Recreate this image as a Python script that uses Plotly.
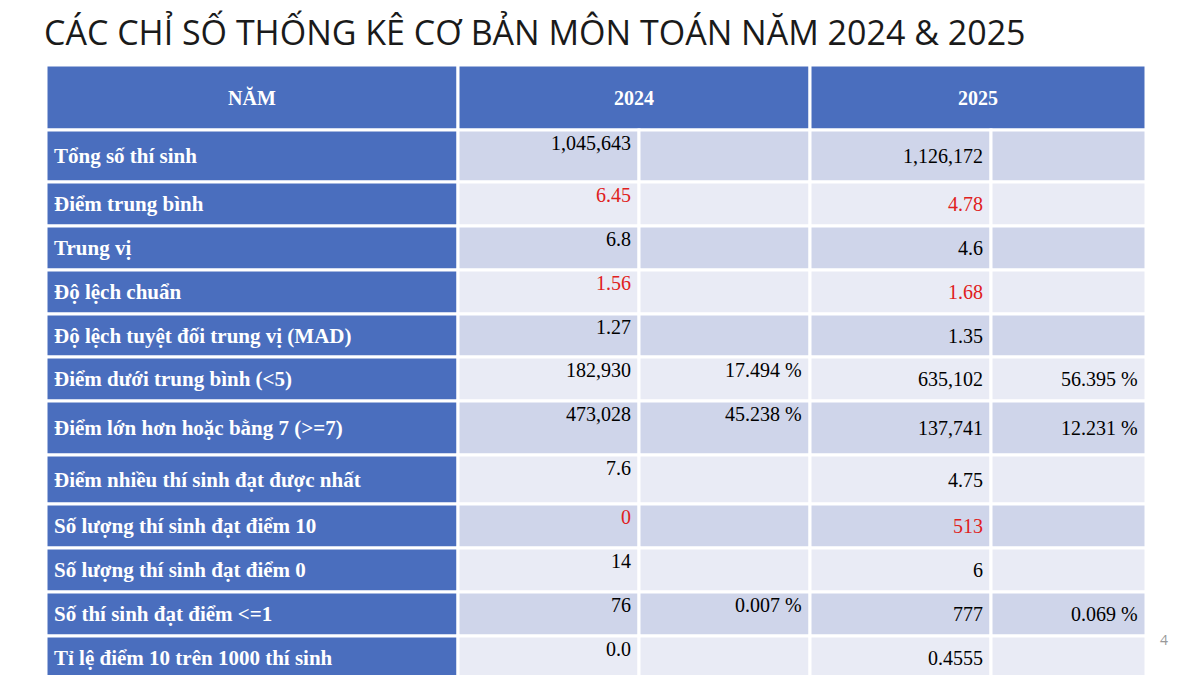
import plotly.graph_objects as go

title = "CÁC CHỈ SỐ THỐNG KÊ CƠ BẢN MÔN TOÁN NĂM 2024 & 2025"
header = ["NĂM", "2024", "2025"]
labels = [
    "Tổng số thí sinh", "Điểm trung bình", "Trung vị", "Độ lệch chuẩn",
    "Độ lệch tuyệt đối trung vị (MAD)", "Điểm dưới trung bình (<5)",
    "Điểm lớn hơn hoặc bằng 7 (>=7)", "Điểm nhiều thí sinh đạt được nhất",
    "Số lượng thí sinh đạt điểm 10", "Số lượng thí sinh đạt điểm 0",
    "Số thí sinh đạt điểm <=1", "Tỉ lệ điểm 10 trên 1000 thí sinh",
]
val_2024 = ["1,045,643", "6.45", "6.8", "1.56", "1.27", "182,930", "473,028",
            "7.6", "0", "14", "76", "0.0"]
pct_2024 = ["", "", "", "", "", "17.494 %", "45.238 %", "", "", "", "0.007 %", ""]
val_2025 = ["1,126,172", "4.78", "4.6", "1.68", "1.35", "635,102", "137,741",
            "4.75", "513", "6", "777", "0.4555"]
pct_2025 = ["", "", "", "", "", "56.395 %", "12.231 %", "", "", "", "0.069 %", ""]
highlight = [False, True, False, True, False, False, False, False, True, False, False, False]

# layout (pixels)
col_x = [47, 459, 640, 811, 992, 1147]
row_y = [66, 131, 183, 227, 271, 315, 358, 402, 456, 505, 549, 593, 637, 690]
BLUE = "#4A6EBE"
ODD = "#CFD5EA"
EVEN = "#E9EBF5"
SERIF = "Liberation Serif"
OFF = 9  # page offset compensation

fig = go.Figure()
shapes = []
ann = []


def rect(x0, x1, y0, y1, color):
    shapes.append(dict(type="rect", xref="x", yref="y", x0=x0, x1=x1, y0=y0, y1=y1,
                       fillcolor=color, line=dict(color="white", width=3), layer="below"))


def text(x, y, s, color="black", anchor="right", bold=False, size=20):
    ann.append(dict(x=x, y=y, xref="x", yref="y", text=f"<b>{s}</b>" if bold else s,
                    showarrow=False, xanchor=anchor, yanchor="middle",
                    font=dict(family=SERIF, size=size, color=color)))


# header
h0, h1 = row_y[0], row_y[1]
rect(col_x[0], col_x[1], h0, h1, BLUE)
rect(col_x[1], col_x[3], h0, h1, BLUE)
rect(col_x[3], col_x[5], h0, h1, BLUE)
text((col_x[0] + col_x[1]) / 2, (h0 + h1) / 2, header[0], "white", "center", True)
text((col_x[1] + col_x[3]) / 2, (h0 + h1) / 2, header[1], "white", "center", True)
text((col_x[3] + col_x[5]) / 2, (h0 + h1) / 2, header[2], "white", "center", True)

for i, lab in enumerate(labels):
    y0, y1 = row_y[i + 1], row_y[i + 2]
    mid = min((y0 + y1) / 2, 659)
    fill = ODD if i % 2 == 0 else EVEN
    rect(col_x[0], col_x[1], y0, y1, BLUE)
    for c in range(1, 5):
        rect(col_x[c], col_x[c + 1], y0, y1, fill)
    text(col_x[0] + 6, mid, lab, "white", "left", True, 21)
    red = "#E02020" if highlight[i] else "black"
    text(col_x[2] - 6, y0 + 13, val_2024[i], red)
    text(col_x[3] - 6, y0 + 13, pct_2024[i])
    text(col_x[4] - 6, mid, val_2025[i], red)
    text(col_x[5] - 6, mid, pct_2025[i])

ann.append(dict(x=43, y=33, xref="x", yref="y", text=title, showarrow=False,
                xanchor="left", yanchor="middle",
                font=dict(family="Open Sans", size=34, color="#1a1a1a")))
ann.append(dict(x=1165, y=640, xref="x", yref="y", text="4", showarrow=False,
                font=dict(family="Open Sans", size=14, color="#999999")))

fig.update_layout(
    width=1200, height=675, margin=dict(l=0, r=0, t=0, b=0),
    paper_bgcolor="white", plot_bgcolor="white",
    xaxis=dict(range=[OFF, 1200 + OFF], visible=False, fixedrange=True),
    yaxis=dict(range=[675 + OFF, OFF], visible=False, fixedrange=True),
    shapes=shapes, annotations=ann, showlegend=False,
)
fig.write_html("out.html")
